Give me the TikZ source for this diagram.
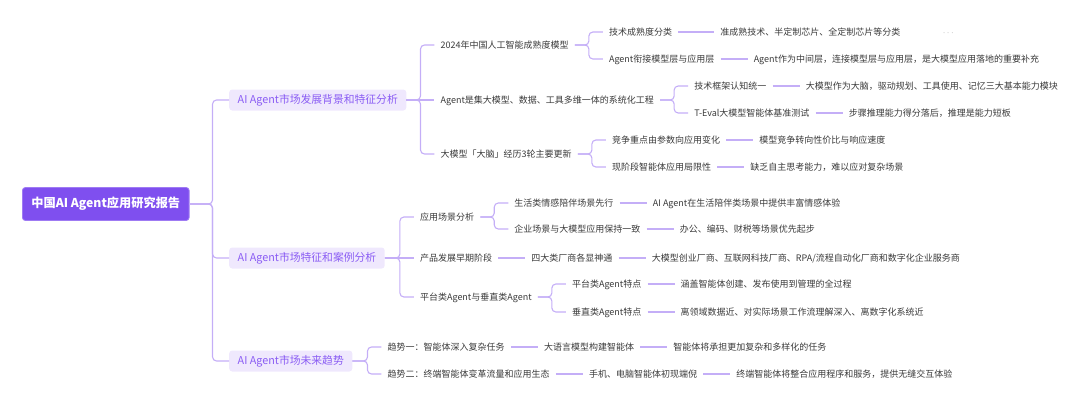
\documentclass[tikz,border=0pt]{standalone}
\usepackage{fontspec}
\usepackage{tikz}
\usetikzlibrary{positioning}
\newfontfamily\cjk{Noto Sans CJK SC}
\definecolor{rootpurple}{HTML}{7F4FEF}
\definecolor{topicbg}{HTML}{EFE8FD}
\definecolor{topictext}{HTML}{8A5CF4}
\definecolor{itemtext}{HTML}{3A3A3A}
\definecolor{linkpurple}{HTML}{C4AEF7}
\tikzset{
  rootbox/.style={fill=rootpurple,draw=rootpurple!75!white,line width=0.8pt,text=white,rounded corners=3pt,
    minimum height=33pt,inner xsep=9pt,text height=9.5pt,text depth=2.5pt,anchor=west,
    font={\cjk\bfseries\fontsize{12.2}{14}\selectfont}},
  topic/.style={fill=topicbg,text=topictext,rounded corners=3pt,minimum height=21pt,inner xsep=8.5pt,
    text height=8.5pt,text depth=2pt,anchor=west,font={\cjk\fontsize{10.8}{12}\selectfont}},
  item/.style={text=itemtext,inner xsep=6pt,inner ysep=2pt,text height=7.5pt,text depth=1.5pt,
    font={\cjk\fontsize{9}{10}\selectfont}},
  link/.style={draw=linkpurple,line width=1.1pt,rounded corners=4pt},
}
\begin{document}
\begin{tikzpicture}[x=1pt,y=1pt,node distance=27pt]
\useasboundingbox (0,0) rectangle (1080,-407);
\node[rootbox] (root) at (22,-204) {中国AI Agent应用研究报告};
\node[topic] (bg) at (229,-100) {AI Agent市场发展背景和特征分析};
\node[topic] (case) at (229,-258) {AI Agent市场特征和案例分析};
\node[topic] (trend) at (229,-361) {AI Agent市场未来趋势};

\node[item,right=28pt of bg,yshift=55pt] (maturity) {2024年中国人工智能成熟度模型};
\node[item,right=28pt of maturity,yshift=13pt] (maturityA) {技术成熟度分类};
\node[item,right=36pt of maturityA] (maturityAA) {准成熟技术、半定制芯片、全定制芯片等分类};
\node[item,text=gray!75,right=30pt of maturityAA] (more) {$\cdots$};
\node[item,right=28pt of maturity,yshift=-14pt] (maturityB) {Agent衔接模型层与应用层};
\node[item,right=of maturityB] (maturityBB) {Agent作为中间层，连接模型层与应用层，是大模型应用落地的重要补充};

\node[item,right=28pt of bg] (system) {Agent是集大模型、数据、工具多维一体的系统化工程};
\node[item,right=28pt of system,yshift=14pt] (systemA) {技术框架认知统一};
\node[item,right=of systemA] (systemAA) {大模型作为大脑，驱动规划、工具使用、记忆三大基本能力模块};
\node[item,right=28pt of system,yshift=-13pt] (systemB) {T-Eval大模型智能体基准测试};
\node[item,right=of systemB] (systemBB) {步骤推理能力得分落后，推理是能力短板};

\node[item,right=28pt of bg,yshift=-54pt] (brain) {大模型「大脑」经历3轮主要更新};
\node[item,right=28pt of brain,yshift=14pt] (brainA) {竞争重点由参数向应用变化};
\node[item,right=of brainA] (brainAA) {模型竞争转向性价比与响应速度};
\node[item,right=28pt of brain,yshift=-13pt] (brainB) {现阶段智能体应用局限性};
\node[item,right=of brainB] (brainBB) {缺乏自主思考能力，难以应对复杂场景};

\node[item,right=29pt of case,yshift=41pt] (scene) {应用场景分析};
\node[item,right=28pt of scene,yshift=14pt] (sceneA) {生活类情感陪伴场景先行};
\node[item,right=of sceneA] (sceneAA) {AI Agent在生活陪伴类场景中提供丰富情感体验};
\node[item,right=28pt of scene,yshift=-12pt] (sceneB) {企业场景与大模型应用保持一致};
\node[item,right=of sceneB] (sceneBB) {办公、编码、财税等场景优先起步};

\node[item,right=29pt of case] (stage) {产品发展早期阶段};
\node[item,right=of stage] (stageA) {四大类厂商各显神通};
\node[item,right=of stageA] (stageAA) {大模型创业厂商、互联网科技厂商、RPA/流程自动化厂商和数字化企业服务商};

\node[item,right=29pt of case,yshift=-39pt] (kind) {平台类Agent与垂直类Agent};
\node[item,right=28pt of kind,yshift=13pt] (kindA) {平台类Agent特点};
\node[item,right=of kindA] (kindAA) {涵盖智能体创建、发布使用到管理的全过程};
\node[item,right=28pt of kind,yshift=-15pt] (kindB) {垂直类Agent特点};
\node[item,right=of kindB] (kindBB) {离领域数据近、对实际场景工作流理解深入、离数字化系统近};

\node[item,right=29pt of trend,yshift=14pt] (trendA) {趋势一：智能体深入复杂任务};
\node[item,right=of trendA] (trendAA) {大语言模型构建智能体};
\node[item,right=of trendAA] (trendAAA) {智能体将承担更加复杂和多样化的任务};
\node[item,right=29pt of trend,yshift=-13pt] (trendB) {趋势二：终端智能体变革流量和应用生态};
\node[item,right=of trendB] (trendBB) {手机、电脑智能体初现端倪};
\node[item,right=of trendBB] (trendBBB) {终端智能体将整合应用程序和服务，提供无缝交互体验};

\draw[link] (root.east) -- ++(23,0) |- (bg.west);
\draw[link] (root.east) -- ++(23,0) |- (case.west);
\draw[link] (root.east) -- ++(23,0) |- (trend.west);

\draw[link] (bg.east) -- ++(14,0) |- (maturity.west);
\draw[link] (bg.east) -- (system.west);
\draw[link] (bg.east) -- ++(14,0) |- (brain.west);
\draw[link] (maturity.east) -- ++(14,0) |- (maturityA.west);
\draw[link] (maturity.east) -- ++(14,0) |- (maturityB.west);
\draw[link] (system.east) -- ++(14,0) |- (systemA.west);
\draw[link] (system.east) -- ++(14,0) |- (systemB.west);
\draw[link] (brain.east) -- ++(14,0) |- (brainA.west);
\draw[link] (brain.east) -- ++(14,0) |- (brainB.west);
\draw[link] (maturityA) -- (maturityAA);
\draw[link] (maturityB) -- (maturityBB);
\draw[link] (systemA) -- (systemAA);
\draw[link] (systemB) -- (systemBB);
\draw[link] (brainA) -- (brainAA);
\draw[link] (brainB) -- (brainBB);

\draw[link] (case.east) -- ++(15,0) |- (scene.west);
\draw[link] (case.east) -- (stage.west);
\draw[link] (case.east) -- ++(15,0) |- (kind.west);
\draw[link] (scene.east) -- ++(14,0) |- (sceneA.west);
\draw[link] (scene.east) -- ++(14,0) |- (sceneB.west);
\draw[link] (kind.east) -- ++(14,0) |- (kindA.west);
\draw[link] (kind.east) -- ++(14,0) |- (kindB.west);
\draw[link] (sceneA) -- (sceneAA);
\draw[link] (sceneB) -- (sceneBB);
\draw[link] (stage) -- (stageA);
\draw[link] (stageA) -- (stageAA);
\draw[link] (kindA) -- (kindAA);
\draw[link] (kindB) -- (kindBB);

\draw[link] (trend.east) -- ++(15,0) |- (trendA.west);
\draw[link] (trend.east) -- ++(15,0) |- (trendB.west);
\draw[link] (trendA) -- (trendAA);
\draw[link] (trendAA) -- (trendAAA);
\draw[link] (trendB) -- (trendBB);
\draw[link] (trendBB) -- (trendBBB);
\end{tikzpicture}
\end{document}
